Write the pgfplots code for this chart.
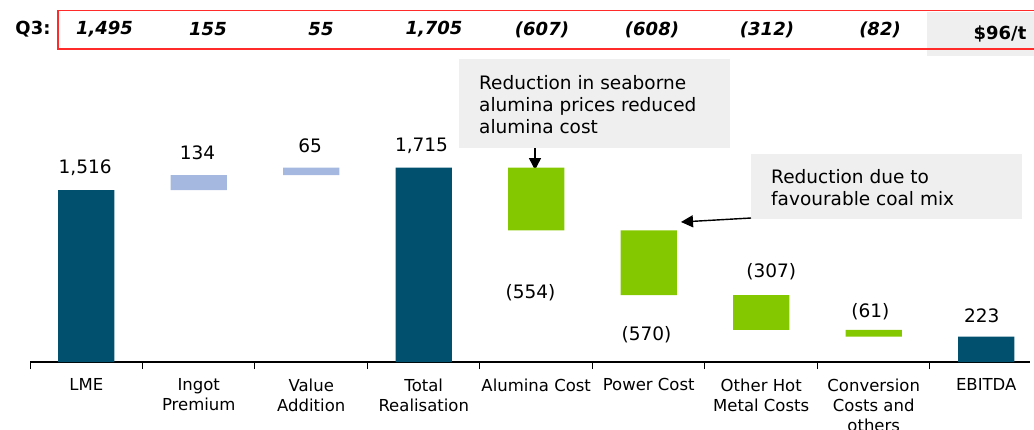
\documentclass[border=0pt]{standalone}
\usepackage{pgfplots}
\pgfplotsset{compat=1.18}
\usepackage{fontspec}
\setmainfont{DejaVu Sans}
\usetikzlibrary{arrows.meta}
\definecolor{darkteal}{HTML}{00506E}
\definecolor{lightbl}{HTML}{A5B8E0}
\definecolor{lgreen}{HTML}{84C800}
\definecolor{boxgray}{HTML}{EFEFEF}
\definecolor{redline}{HTML}{FF2A2A}
\newcommand{\vfont}{\fontsize{18.5bp}{22bp}\selectfont}
\newcommand{\afont}{\fontsize{18.5bp}{22bp}\selectfont}
\begin{document}
\begin{tikzpicture}
% top strip and annotation boxes (pixel coordinates of the reference)
\begin{scope}[x=1bp,y=-1bp]
\fill[boxgray] (927,12) rectangle (1040,56);
\draw[redline, line width=1.6bp] (58,10.5) rectangle (1045,49);
\node[font=\fontsize{18bp}{22bp}\selectfont\bfseries] at (33,29.5) {Q3:};
\foreach \xx/\tt in {104.5/{1,495},208/155,321/55,434/{1,705},542/(607),652/(608),767/(312),880/(82)}{
  \node[font=\fontsize{18bp}{22bp}\selectfont\bfseries\itshape] at (\xx,29.5) {\tt};
}
\node[font=\fontsize{18bp}{22bp}\selectfont\bfseries] at (1000,34) {\$96/t};
% box 1
\fill[boxgray] (459,59) rectangle (730,148);
\node[font=\afont, anchor=base west, inner sep=0] at (479,89) {Reduction in seaborne};
\node[font=\afont, anchor=base west, inner sep=0] at (479,111) {alumina prices reduced};
\node[font=\afont, anchor=base west, inner sep=0] at (479,133) {alumina cost};
\draw[line width=1.4bp, -{Triangle[width=12bp,length=12bp]}] (535,148) -- (535,170);
% box 2
\fill[boxgray] (751,154) rectangle (1022,219);
\node[font=\afont, anchor=base west, inner sep=0] at (771,183.3) {Reduction due to};
\node[font=\afont, anchor=base west, inner sep=0] at (771,205) {favourable coal mix};
\draw[line width=1.4bp, -{Triangle[width=12bp,length=12bp]}] (751,218) -- (681,222);
\end{scope}
\begin{axis}[
  at={(30bp,-362bp)}, anchor=south west,
  scale only axis, width=1000bp, height=362bp,
  xmin=-0.5, xmax=8.389, ymin=0, ymax=3195,
  ybar stacked, bar width=0.5,
  axis y line=none, axis x line*=bottom,
  x axis line style={line width=1.6bp, -},
  xtick={0,...,8},
  xticklabels={LME,{Ingot\\Premium},{Value\\Addition},{Total\\Realisation},{Alumina Cost},{Power Cost},{Other Hot\\Metal Costs},{Conversion\\Costs and\\others},EBITDA},
  major tick length=0pt,
  minor xtick={-0.5,0.5,...,7.5}, minor tick length=7bp, tick align=outside,
  minor tick style={line width=1bp, black},
  xticklabel style={align=center, font=\fontsize{16.5bp}{20bp}\selectfont, anchor=north, yshift=-13bp},
  clip=false,
]
\addplot[draw=none, fill=none, forget plot] coordinates {(0,0)(1,1516)(2,1650)(3,0)(4,1161)(5,591)(6,284)(7,223)(8,0)};
\addplot[draw=none, fill=darkteal] coordinates {(0,1516)(1,0)(2,0)(3,1715)(4,0)(5,0)(6,0)(7,0)(8,223)};
\addplot[draw=none, fill=lightbl] coordinates {(0,0)(1,134)(2,65)(3,0)(4,0)(5,0)(6,0)(7,0)(8,0)};
\addplot[draw=none, fill=lgreen] coordinates {(0,0)(1,0)(2,0)(3,0)(4,554)(5,570)(6,307)(7,61)(8,0)};
% value labels
\node[font=\vfont] at (axis cs:-0.01,1712) {1,516};
\node[font=\vfont] at (axis cs:0.99,1847) {134};
\node[font=\vfont] at (axis cs:1.99,1906) {65};
\node[font=\vfont] at (axis cs:2.98,1906) {1,715};
\node[font=\vfont] at (axis cs:3.95,609) {(554)};
\node[font=\vfont] at (axis cs:4.98,238) {(570)};
\node[font=\vfont] at (axis cs:6.09,794) {(307)};
\node[font=\vfont] at (axis cs:6.97,441) {(61)};
\node[font=\vfont] at (axis cs:7.96,406) {223};
\end{axis}
\begin{scope}[x=1bp,y=-1bp]
\pgfresetboundingbox
\path[use as bounding box] (0,0) rectangle (1034,429);
\end{scope}
\end{tikzpicture}
\end{document}
